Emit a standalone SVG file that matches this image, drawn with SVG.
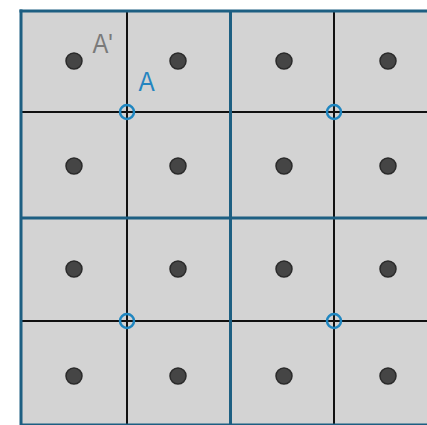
<svg xmlns="http://www.w3.org/2000/svg" width="427" height="425" viewBox="0 0 427 425">
  <style>
    .bg { fill: #d3d3d3; }
    .thin { stroke: #111; stroke-width: 2; fill: none; }
    .thick { stroke: #1d5f82; stroke-width: 3; fill: none; }
    .dot { fill: #454545; stroke: #2a2a2a; stroke-width: 1.5; }
    .ring { fill: none; stroke: #1f86c0; stroke-width: 2.5; }
    .lbl { font-family: "Liberation Sans", Arial, sans-serif; font-size: 27px; }
  </style>
  <rect width="427" height="425" fill="#ffffff"/>
  <rect id="field" class="bg" x="21" y="11" width="406" height="414"/>
  <g id="grid-thin">
    <line class="thin" x1="127" y1="11" x2="127" y2="425"/>
    <line class="thin" x1="334" y1="11" x2="334" y2="425"/>
    <line class="thin" x1="21" y1="112" x2="427" y2="112"/>
    <line class="thin" x1="21" y1="321" x2="427" y2="321"/>
  </g>
  <g id="grid-thick">
    <line class="thick" x1="21" y1="9.5" x2="21" y2="425"/>
    <line class="thick" x1="230.5" y1="11" x2="230.5" y2="425"/>
    <line class="thick" x1="19.5" y1="11" x2="427" y2="11"/>
    <line class="thick" x1="21" y1="218" x2="427" y2="218"/>
    <line class="thick" x1="21" y1="425" x2="427" y2="425"/>
  </g>
  <g id="dots">
    <circle class="dot" cx="74" cy="61" r="8"/>
    <circle class="dot" cx="178" cy="61" r="8"/>
    <circle class="dot" cx="284" cy="61" r="8"/>
    <circle class="dot" cx="388" cy="61" r="8"/>
    <circle class="dot" cx="74" cy="166" r="8"/>
    <circle class="dot" cx="178" cy="166" r="8"/>
    <circle class="dot" cx="284" cy="166" r="8"/>
    <circle class="dot" cx="388" cy="166" r="8"/>
    <circle class="dot" cx="74" cy="269" r="8"/>
    <circle class="dot" cx="178" cy="269" r="8"/>
    <circle class="dot" cx="284" cy="269" r="8"/>
    <circle class="dot" cx="388" cy="269" r="8"/>
    <circle class="dot" cx="74" cy="376" r="8"/>
    <circle class="dot" cx="178" cy="376" r="8"/>
    <circle class="dot" cx="284" cy="376" r="8"/>
    <circle class="dot" cx="388" cy="376" r="8"/>
  </g>
  <g id="rings">
    <circle class="ring" cx="127" cy="112" r="7"/>
    <circle class="ring" cx="334" cy="112" r="7"/>
    <circle class="ring" cx="127" cy="321" r="7"/>
    <circle class="ring" cx="334" cy="321" r="7"/>
  </g>
  <g id="labels">
    <text class="lbl" fill="#7a7a7a" transform="translate(92.5,53) scale(0.88,1)">A'</text>
    <text class="lbl" fill="#2585c0" transform="translate(138.5,91) scale(0.9,1)">A</text>
  </g>
</svg>
